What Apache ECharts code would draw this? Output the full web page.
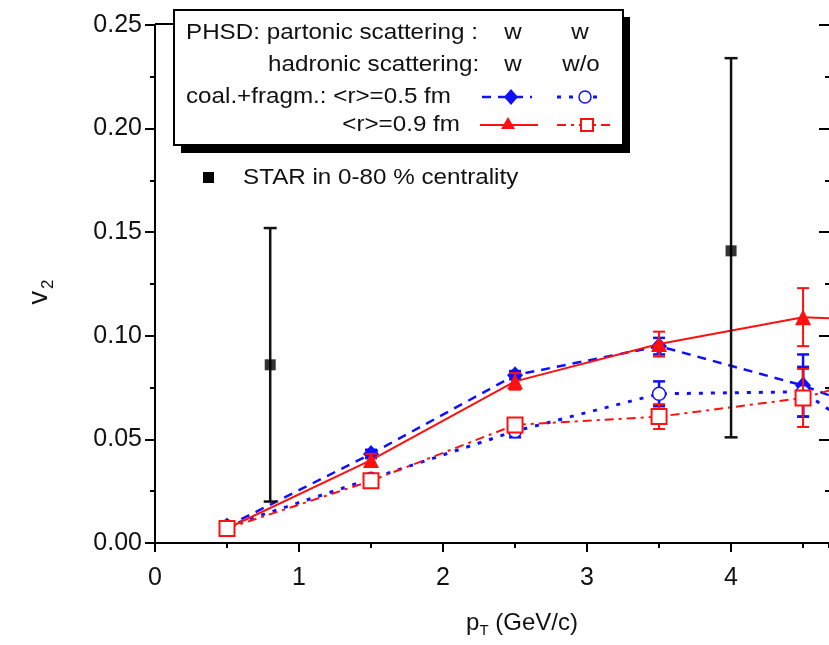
<!DOCTYPE html>
<html><head><meta charset="utf-8">
<script src="https://cdn.jsdelivr.net/npm/echarts@6/dist/echarts.min.js"></script>
<style>html,body{margin:0;padding:0;background:#fff}#c{width:829px;height:645px}</style>
</head><body><div id="c"></div>
<script>
// ---- data ----
const pt = [0.5, 1.5, 2.5, 3.5, 4.5, 5.5];
const v2Blue05 = [0.008, 0.043, 0.081, 0.095, 0.076, 0.050];
const errBlue05 = [0.002, 0.002, 0.002, 0.004, 0.015, 0];
const v2BlueWo = [0.008, 0.031, 0.054, 0.072, 0.073, 0.025];
const errBlueWo = [0.002, 0.002, 0.003, 0.006, 0.012, 0];
const v2Red09 = [0.007, 0.040, 0.078, 0.096, 0.109, 0.106];
const errRed09 = [0.002, 0.003, 0.004, 0.006, 0.014, 0];
const v2RedWo = [0.007, 0.030, 0.057, 0.061, 0.070, 0.090];
const errRedWo = [0.002, 0.002, 0.002, 0.006, 0.014, 0];
const starPt = [0.8, 4.0];
const starV2 = [0.086, 0.141];
const starLo = [0.020, 0.051];
const starHi = [0.152, 0.234];

const FONT = 'Liberation Sans, Arial, sans-serif';
const BLUE = '#1010ff', RED = '#ff1010';

function pairs(xs, ys) { return xs.map((x, i) => [x, ys[i]]); }
function errData(xs, ys, es) { return xs.map((x, i) => [x, ys[i] - es[i], ys[i] + es[i]]); }

function errRender(color, capW, lw) {
  return function (params, api) {
    const x = api.value(0), lo = api.value(1), hi = api.value(2);
    if (hi - lo <= 0) return null;
    const p0 = api.coord([x, lo]), p1 = api.coord([x, hi]);
    const h = capW / 2;
    const st = { stroke: color, lineWidth: lw };
    return { type: 'group', children: [
      { type: 'line', shape: { x1: p0[0], y1: p0[1], x2: p1[0], y2: p1[1] }, style: st },
      { type: 'line', shape: { x1: p0[0] - h, y1: p0[1], x2: p0[0] + h, y2: p0[1] }, style: st },
      { type: 'line', shape: { x1: p1[0] - h, y1: p1[1], x2: p1[0] + h, y2: p1[1] }, style: st }
    ]};
  };
}

const chart = echarts.init(document.getElementById('c'), null, { renderer: 'canvas' });

const txt = (x, y, s, align, extra) => Object.assign({
  type: 'text', x: x, y: y, scaleX: 1.1, z: 20,
  style: { x: 0, y: 0, text: s, font: '22px ' + FONT, fill: '#111', textAlign: align || 'left', textVerticalAlign: 'middle' }
}, extra || {});

const graphics = [
  // legend box shadow + box
  { type: 'rect', shape: { x: 181, y: 17, width: 449, height: 136 }, style: { fill: '#000' }, z: 10 },
  { type: 'rect', shape: { x: 174, y: 10, width: 449, height: 135 }, style: { fill: '#fff', stroke: '#000', lineWidth: 2 }, z: 11 },
  { type: 'line', shape: { x1: 155, y1: 24, x2: 174, y2: 24 }, style: { stroke: '#000', lineWidth: 2 }, z: 11 },
  txt(186, 33, 'PHSD: partonic scattering :'),
  txt(513, 33, 'w', 'center'),
  txt(580, 33, 'w', 'center'),
  txt(268, 65, 'hadronic scattering:'),
  txt(513, 65, 'w', 'center'),
  txt(581, 65, 'w/o', 'center'),
  txt(186, 97, 'coal.+fragm.: <r>=0.5 fm'),
  txt(460, 125, '<r>=0.9 fm', 'right'),
  // legend samples
  { type: 'line', z: 20, shape: { x1: 482, y1: 97, x2: 532, y2: 97 }, style: { stroke: BLUE, lineWidth: 2.5, lineDash: [9, 7] } },
  { type: 'polygon', z: 21, shape: { points: [[511, 89], [518, 97], [511, 105], [504, 97]] }, style: { fill: BLUE } },
  { type: 'line', z: 20, shape: { x1: 557, y1: 97, x2: 603, y2: 97 }, style: { stroke: BLUE, lineWidth: 3, lineDash: [4, 8] } },
  { type: 'circle', z: 21, shape: { cx: 585, cy: 97, r: 6 }, style: { fill: '#fff', stroke: BLUE, lineWidth: 1.5 } },
  { type: 'line', z: 20, shape: { x1: 480, y1: 125, x2: 538, y2: 125 }, style: { stroke: RED, lineWidth: 2 } },
  { type: 'polygon', z: 21, shape: { points: [[508, 117], [515, 129], [501, 129]] }, style: { fill: RED } },
  { type: 'line', z: 20, shape: { x1: 557, y1: 125, x2: 610, y2: 125 }, style: { stroke: RED, lineWidth: 2, lineDash: [9, 5, 3, 5] } },
  { type: 'rect', z: 21, shape: { x: 581, y: 119, width: 12, height: 12 }, style: { fill: '#fff', stroke: RED, lineWidth: 2 } },
  // STAR legend
  { type: 'rect', z: 21, shape: { x: 203, y: 172, width: 11, height: 11 }, style: { fill: '#000' } },
  txt(243, 178, 'STAR in 0-80 % centrality'),
  // axis titles
  { type: 'text', x: 40, y: 292, rotation: Math.PI / 2, z: 20,
    style: { x: 0, y: 0, text: '{a|v}{s|2}', textAlign: 'center', textVerticalAlign: 'middle', fill: '#111',
      rich: { a: { font: '27px ' + FONT, fill: '#111', lineHeight: 34, verticalAlign: 'middle' },
              s: { font: '17px ' + FONT, fill: '#111', lineHeight: 34, verticalAlign: 'bottom', padding: [0, 0, 0, 2] } } } },
  { type: 'text', x: 522, y: 623, z: 20,
    style: { x: 0, y: 0, text: '{a|p}{s|T}{a| (GeV/c)}', textAlign: 'center', textVerticalAlign: 'middle', fill: '#111',
      rich: { a: { font: '24px ' + FONT, fill: '#111', lineHeight: 30, verticalAlign: 'middle' },
              s: { font: '15px ' + FONT, fill: '#111', lineHeight: 30, verticalAlign: 'bottom' } } } }
];

const axisTxt = { color: '#111', fontFamily: FONT, fontSize: 25 };

const option = {
  animation: false,
  backgroundColor: '#fff',
  grid: { left: 155, top: 25, width: 675, height: 518, containLabel: false },
  xAxis: [
    { type: 'value', min: 0, max: 4.68, interval: 1, position: 'bottom',
      axisLine: { show: true, onZero: false, lineStyle: { color: '#000', width: 2 } },
      axisTick: { show: true, length: 9, lineStyle: { color: '#000', width: 2 } },
      axisLabel: Object.assign({ margin: 23, showMaxLabel: false }, axisTxt),
      splitLine: { show: false } },
    { type: 'value', min: 0, max: 4.68, interval: 0.5, position: 'bottom',
      axisLine: { show: false },
      axisTick: { show: true, length: 5, lineStyle: { color: '#000', width: 2 } },
      axisLabel: { show: false }, splitLine: { show: false } }
  ],
  yAxis: [
    { type: 'value', min: 0, max: 0.25, interval: 0.05, position: 'left',
      axisLine: { show: true, onZero: false, lineStyle: { color: '#000', width: 2 } },
      axisTick: { show: true, length: 10, lineStyle: { color: '#000', width: 2 } },
      minorTick: { show: true, splitNumber: 2, length: 5, lineStyle: { color: '#000', width: 2 } },
      axisLabel: Object.assign({ margin: 13, formatter: v => v.toFixed(2) }, axisTxt),
      splitLine: { show: false }, minorSplitLine: { show: false } },
    { type: 'value', min: 0, max: 0.25, interval: 0.05, position: 'right',
      axisLine: { show: true, onZero: false, lineStyle: { color: '#000', width: 2, opacity: 0 } },
      axisTick: { show: true, inside: true, length: 10, lineStyle: { color: '#000', width: 2, opacity: 1 } },
      minorTick: { show: true, splitNumber: 2, length: 4, lineStyle: { color: '#000', width: 2, opacity: 1 } },
      axisLabel: { show: false }, splitLine: { show: false } }
  ],
  series: [
    { type: 'line', name: 'blue05', data: pairs(pt, v2Blue05), z: 3,
      lineStyle: { color: BLUE, width: 2.5, type: [9, 7] },
      symbol: 'diamond', symbolSize: [16, 18], itemStyle: { color: BLUE } },
    { type: 'custom', data: errData(pt, v2Blue05, errBlue05), renderItem: errRender(BLUE, 12, 2.5), z: 3 },
    { type: 'line', name: 'bluewo', data: pairs(pt, v2BlueWo), z: 4,
      lineStyle: { color: BLUE, width: 3, type: [4, 8] },
      symbol: 'circle', symbolSize: 13, itemStyle: { color: '#fff', borderColor: BLUE, borderWidth: 1.5 } },
    { type: 'custom', data: errData(pt, v2BlueWo, errBlueWo), renderItem: errRender(BLUE, 12, 2.5), z: 4 },
    { type: 'line', name: 'red09', data: pairs(pt, v2Red09), z: 5,
      lineStyle: { color: RED, width: 2 },
      symbol: 'triangle', symbolSize: 16, itemStyle: { color: RED } },
    { type: 'custom', data: errData(pt, v2Red09, errRed09), renderItem: errRender(RED, 12, 2), z: 5 },
    { type: 'line', name: 'redwo', data: pairs(pt, v2RedWo), z: 6,
      lineStyle: { color: RED, width: 2, type: [9, 5, 3, 5] },
      symbol: 'rect', symbolSize: 15, itemStyle: { color: '#fff', borderColor: RED, borderWidth: 2 } },
    { type: 'custom', data: errData(pt, v2RedWo, errRedWo), renderItem: errRender(RED, 12, 2), z: 6 },
    { type: 'custom', data: starPt.map((x, i) => [x, starLo[i], starHi[i]]), renderItem: errRender('#111', 13, 2.5), z: 7 },
    { type: 'scatter', data: pairs(starPt, starV2), symbol: 'rect', symbolSize: 11, itemStyle: { color: '#000' }, z: 8 }
  ],
  graphic: graphics
};
chart.setOption(option);
</script>
</body></html>
